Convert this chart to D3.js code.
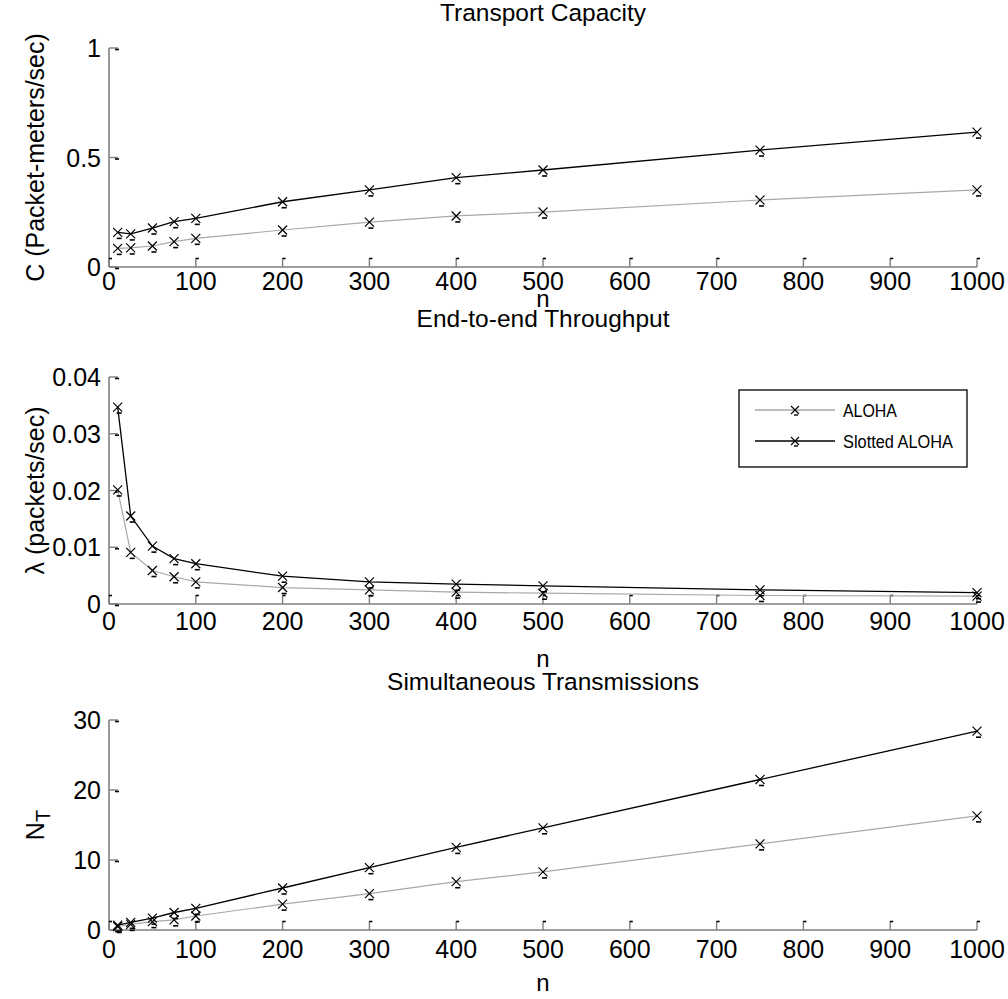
<!DOCTYPE html>
<html>
<head>
<meta charset="utf-8">
<script src="https://cdn.jsdelivr.net/npm/d3@7"></script>
<style>
  html, body { margin: 0; padding: 0; background: #fff; }
  svg { display: block; }
  text { font-family: "Liberation Sans", Arial, sans-serif; fill: #000; }
</style>
</head>
<body>
<svg id="fig" width="1008" height="999"></svg>
<script>
// Network size (number of nodes)
const nodes = [10, 25, 50, 75, 100, 200, 300, 400, 500, 750, 1000];

// Transport capacity, packet-meters/sec
const capacityAloha   = [0.085, 0.087, 0.096, 0.116, 0.131, 0.169, 0.205, 0.233, 0.251, 0.306, 0.352];
const capacitySlotted = [0.158, 0.151, 0.178, 0.207, 0.222, 0.298, 0.352, 0.408, 0.443, 0.534, 0.616];

// End-to-end throughput, packets/sec
const throughputAloha   = [0.0201, 0.0091, 0.0059, 0.0048, 0.0039, 0.0029, 0.0025, 0.0021, 0.0019, 0.0015, 0.0014];
const throughputSlotted = [0.0347, 0.0155, 0.0102, 0.0080, 0.0071, 0.0049, 0.0039, 0.0035, 0.0032, 0.0025, 0.0020];

// Number of simultaneous transmissions
const simulAloha   = [0.5, 0.8, 1.2, 1.45, 2.0, 3.7, 5.2, 6.9, 8.3, 12.3, 16.3];
const simulSlotted = [0.7, 1.1, 1.7, 2.5, 3.1, 6.0, 8.9, 11.8, 14.6, 21.5, 28.4];

// Axis ticks
const xTicks = [0, 100, 200, 300, 400, 500, 600, 700, 800, 900, 1000];
const capTicks = [0, 0.5, 1];
const thrTicks = [0, 0.01, 0.02, 0.03, 0.04];
const simTicks = [0, 10, 20, 30];

const seriesNames = ["ALOHA", "Slotted ALOHA"];

const svg = d3.select("#fig");
const AXIS_GREY = "#7f7f7f";
const ALOHA_GREY = "#a8a8a8";
const TICK_FONT = 25;

const x = d3.scaleLinear().domain([0, 1000]).range([109, 977]);

const panels = [
  { title: "Transport Capacity", titleY: 21, top: 48, bottom: 267, domain: [0, 1], ticks: capTicks,
    fmt: d => d === 0 ? "0" : (d === 1 ? "1" : d3.format(".1f")(d)),
    ylabel: "C (Packet-meters/sec)", tickY: 290, nY: 307,
    a: capacityAloha, s: capacitySlotted },
  { title: "End-to-end Throughput", titleY: 327, top: 377, bottom: 604, domain: [0, 0.04], ticks: thrTicks,
    fmt: d => d === 0 ? "0" : d3.format(".2f")(d),
    ylabel: "\u03bb (packets/sec)", tickY: 630, nY: 667,
    a: throughputAloha, s: throughputSlotted, legend: true },
  { title: "Simultaneous Transmissions", titleY: 690, top: 720, bottom: 930, domain: [0, 30], ticks: simTicks,
    fmt: d => String(d),
    ylabel: "NT", tickY: 958, nY: 991,
    a: simulAloha, s: simulSlotted }
];

// x-shaped marker with the small offset dash of the exported figure
function drawMarkers(g, xs, ys) {
  const m = g.append("g");
  nodes.forEach((n, i) => {
    const cx = xs(n), cy = ys[i];
    m.append("path")
      .attr("d", `M${cx - 4.5},${cy - 4.5}L${cx + 4.5},${cy + 4.5}M${cx - 4.5},${cy + 4.5}L${cx + 4.5},${cy - 4.5}`)
      .attr("stroke", "#000").attr("stroke-width", 1.2).attr("fill", "none");
    m.append("path")
      .attr("d", `M${cx - 1},${cy + 6}L${cx + 4},${cy + 6}`)
      .attr("stroke", "#000").attr("stroke-width", 1.6);
  });
}

panels.forEach(p => {
  const y = d3.scaleLinear().domain(p.domain).range([p.bottom, p.top]);
  const g = svg.append("g");
  const cx = (x.range()[0] + x.range()[1]) / 2;

  // Title
  g.append("text").attr("x", cx).attr("y", p.titleY)
    .attr("text-anchor", "middle").attr("font-size", 24.5).text(p.title);

  // Axis lines
  g.append("line").attr("x1", x(0)).attr("x2", x(1000)).attr("y1", p.bottom).attr("y2", p.bottom)
    .attr("stroke", AXIS_GREY).attr("stroke-width", 1.6);
  g.append("line").attr("x1", x(0)).attr("x2", x(0)).attr("y1", p.top).attr("y2", p.bottom)
    .attr("stroke", AXIS_GREY).attr("stroke-width", 1.6);

  // x ticks (inward) and labels
  xTicks.forEach(t => {
    const tx = x(t);
    g.append("line").attr("x1", tx).attr("x2", tx).attr("y1", p.bottom).attr("y2", p.bottom - 9)
      .attr("stroke", AXIS_GREY).attr("stroke-width", 1.4);
    g.append("line").attr("x1", tx).attr("x2", tx + 3).attr("y1", p.bottom - 8.5).attr("y2", p.bottom - 8.5)
      .attr("stroke", "#000").attr("stroke-width", 1.6);
    g.append("text").attr("x", tx).attr("y", p.tickY).attr("text-anchor", "middle")
      .attr("font-size", TICK_FONT).text(t);
  });

  // y ticks (inward) and labels
  p.ticks.forEach(t => {
    const ty = y(t);
    g.append("line").attr("x1", x(0)).attr("x2", x(0) + 9).attr("y1", ty).attr("y2", ty)
      .attr("stroke", AXIS_GREY).attr("stroke-width", 1.4);
    g.append("line").attr("x1", x(0) + 6).attr("x2", x(0) + 10).attr("y1", ty + 1.5).attr("y2", ty + 1.5)
      .attr("stroke", "#000").attr("stroke-width", 1.6);
    g.append("text").attr("x", x(0) - 8).attr("y", ty + 9).attr("text-anchor", "end")
      .attr("font-size", TICK_FONT).text(p.fmt(t));
  });

  // x label
  g.append("text").attr("x", cx).attr("y", p.nY).attr("text-anchor", "middle")
    .attr("font-size", 24).text("n");

  // y label
  const ly = (p.top + p.bottom) / 2;
  const yl = g.append("text").attr("transform", `translate(44,${ly}) rotate(-90)`)
    .attr("text-anchor", "middle").attr("font-size", 25);
  if (p.ylabel === "NT") {
    yl.append("tspan").text("N");
    yl.append("tspan").attr("dy", 6).attr("font-size", 20).text("T");
  } else {
    yl.text(p.ylabel);
  }

  // Series lines
  const line = d3.line().x((d, i) => x(nodes[i])).y(d => y(d));
  g.append("path").datum(p.a).attr("d", line).attr("fill", "none")
    .attr("stroke", ALOHA_GREY).attr("stroke-width", 1.2);
  g.append("path").datum(p.s).attr("d", line).attr("fill", "none")
    .attr("stroke", "#000").attr("stroke-width", 1.3);
  drawMarkers(g, x, p.a.map(v => y(v)));
  drawMarkers(g, x, p.s.map(v => y(v)));

  // Legend
  if (p.legend) {
    const lg = g.append("g");
    lg.append("rect").attr("x", 739).attr("y", 390).attr("width", 228).attr("height", 77)
      .attr("fill", "#fff").attr("stroke", "#000").attr("stroke-width", 1.3);
    const rows = [{ name: seriesNames[0], color: ALOHA_GREY, yy: 410 },
                  { name: seriesNames[1], color: "#000", yy: 441 }];
    rows.forEach(r => {
      lg.append("line").attr("x1", 755).attr("x2", 835).attr("y1", r.yy).attr("y2", r.yy)
        .attr("stroke", r.color).attr("stroke-width", 1.3);
      const mx = 795, my = r.yy;
      lg.append("path")
        .attr("d", `M${mx - 4},${my - 4}L${mx + 4},${my + 4}M${mx - 4},${my + 4}L${mx + 4},${my - 4}`)
        .attr("stroke", "#000").attr("stroke-width", 1.1);
      lg.append("path").attr("d", `M${mx - 1},${my + 5}L${mx + 3},${my + 5}`)
        .attr("stroke", "#000").attr("stroke-width", 1.4);
      lg.append("text").attr("x", 843).attr("y", r.yy + 7).attr("font-size", 18)
        .attr("textLength", r.name === "ALOHA" ? 54 : 110).attr("lengthAdjust", "spacingAndGlyphs")
        .text(r.name);
    });
  }
});
</script>
</body>
</html>
